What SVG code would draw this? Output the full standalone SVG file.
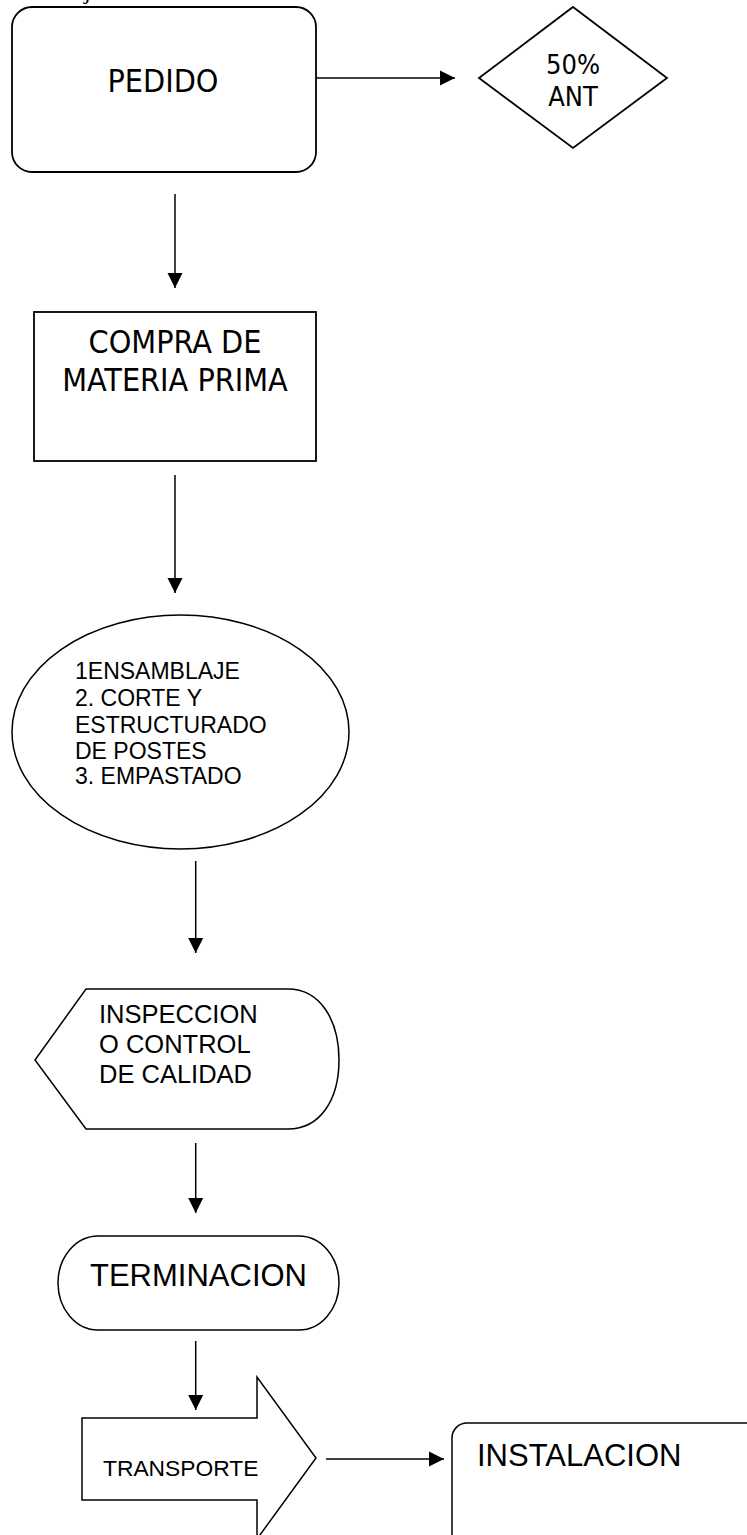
<svg xmlns="http://www.w3.org/2000/svg" width="747" height="1535" viewBox="0 0 747 1535">
<style>
.shape{fill:#fff;stroke:#000;stroke-width:1.8}
.thin{fill:#fff;stroke:#000;stroke-width:1.5}
.conn line{stroke:#000;stroke-width:1.5}
.t1{font-family:"DejaVu Sans Condensed","DejaVu Sans",sans-serif;fill:#000}
.t2{font-family:"Liberation Sans",Arial,sans-serif;fill:#000}
</style>
<defs>
<marker id="ah" markerUnits="userSpaceOnUse" markerWidth="16" markerHeight="16" viewBox="0 0 16 16" refX="15" refY="8" orient="auto">
<path d="M0,0.5 L15,8 L0,15.5 Z" fill="#000"/>
</marker>
</defs>
<text x="84" y="-1" font-family="Liberation Serif,serif" font-size="24">j</text>
<g id="pedido">
<rect class="shape" x="12" y="7" width="304" height="165" rx="20" ry="20"/>
<text class="t1" x="163" y="92" font-size="32" text-anchor="middle">PEDIDO</text>
</g>
<g id="anticipo">
<polygon class="shape" points="573,7 667,78 573,148 479,78"/>
<text class="t1" x="573" y="74" font-size="27" text-anchor="middle">50%</text>
<text class="t1" x="573" y="106" font-size="27" text-anchor="middle">ANT</text>
</g>
<g id="compra">
<rect class="shape" x="34" y="312" width="282" height="149"/>
<text class="t1" x="175" y="353" font-size="32" text-anchor="middle">COMPRA DE</text>
<text class="t1" x="175" y="391" font-size="32" text-anchor="middle">MATERIA PRIMA</text>
</g>
<g id="ensamblaje">
<ellipse class="thin" cx="180.5" cy="732" rx="168.5" ry="117"/>
<text class="t2" font-size="23">
<tspan x="75" y="679">1ENSAMBLAJE</tspan>
<tspan x="75" y="706">2. CORTE Y</tspan>
<tspan x="75" y="733">ESTRUCTURADO</tspan>
<tspan x="75" y="759">DE POSTES</tspan>
<tspan x="75" y="784">3. EMPASTADO</tspan>
</text>
</g>
<g id="inspeccion">
<path class="thin" d="M35,1060 L86,989 L288,989 C320,989 339,1020 339,1060 C339,1100 320,1129 288,1129 L86,1129 Z"/>
<text class="t2" font-size="25.5">
<tspan x="99" y="1023">INSPECCION</tspan>
<tspan x="99" y="1053">O CONTROL</tspan>
<tspan x="99" y="1083">DE CALIDAD</tspan>
</text>
</g>
<g id="terminacion">
<rect class="thin" x="58" y="1236" width="281" height="94" rx="40" ry="47"/>
<text class="t2" x="198.5" y="1286" font-size="31" text-anchor="middle">TERMINACION</text>
</g>
<g id="transporte">
<path class="thin" d="M82,1418 L257,1418 L257,1377 L316,1458 L257,1539 L257,1500 L82,1500 Z"/>
<text class="t2" x="103" y="1476" font-size="22.8">TRANSPORTE</text>
</g>
<g id="instalacion">
<rect class="thin" x="452" y="1423" width="320" height="140" rx="15" ry="15"/>
<text class="t2" x="477" y="1466" font-size="31">INSTALACION</text>
</g>
<g id="connectors" class="conn">
<line x1="316" y1="78" x2="455" y2="78" marker-end="url(#ah)"/>
<line x1="175" y1="194" x2="175" y2="288" marker-end="url(#ah)"/>
<line x1="175" y1="475" x2="175" y2="593" marker-end="url(#ah)"/>
<line x1="195.7" y1="861" x2="195.7" y2="953" marker-end="url(#ah)"/>
<line x1="195.7" y1="1143" x2="195.7" y2="1213" marker-end="url(#ah)"/>
<line x1="195.7" y1="1341" x2="195.7" y2="1410" marker-end="url(#ah)"/>
<line x1="326" y1="1459" x2="444" y2="1459" marker-end="url(#ah)"/>
</g>
</svg>
